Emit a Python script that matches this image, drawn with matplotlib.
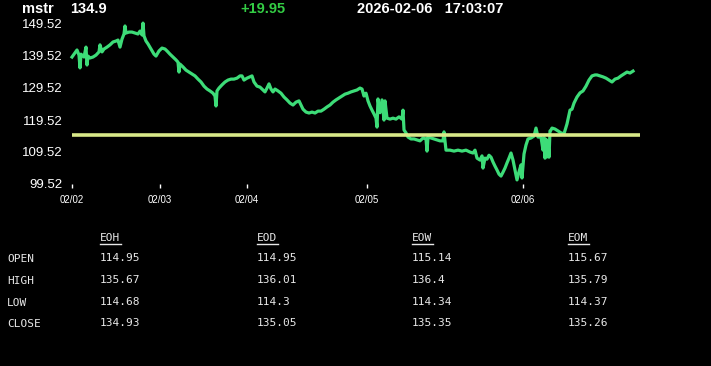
import matplotlib
matplotlib.use("Agg")
import matplotlib.pyplot as plt
from matplotlib.lines import Line2D

# quote header
symbol = "mstr"
last = "134.9"
change = "+19.95"
stamp = "2026-02-06   17:03:07"

# intraday series (bar index, price)
bars = [
    0, 2, 5, 7, 8, 9, 12, 14, 15, 16, 18, 21, 24, 27, 28, 30, 32, 35, 38, 41,
    44, 46, 48, 50, 52, 53, 54, 57, 60, 63, 66, 68, 70, 71, 72, 74, 76, 79, 82, 84,
    87, 90, 93, 95, 98, 101, 104, 106, 107, 108, 111, 114, 117, 120, 123, 126, 129, 132, 135, 138,
    141, 143, 144, 145, 147, 150, 153, 156, 159, 162, 165, 168, 170, 172, 175, 178, 180, 182, 185, 188,
    191, 193, 195, 197, 199, 201, 203, 206, 209, 212, 215, 218, 221, 224, 227, 229, 231, 234, 237, 240,
    243, 246, 249, 252, 255, 258, 261, 264, 267, 270, 273, 276, 279, 282, 285, 288, 290, 292, 294, 296,
    298, 300, 302, 304, 305, 306, 308, 310, 312, 313, 315, 318, 321, 324, 327, 330, 331, 332, 334, 336,
    339, 342, 345, 348, 351, 354, 355, 356, 359, 362, 365, 368, 371, 372, 374, 378, 382, 386, 390, 394,
    398, 401, 403, 405, 408, 410, 411, 413, 415, 417, 419, 421, 423, 425, 427, 429, 431, 433, 435, 437,
    439, 441, 443, 445, 447, 449, 450, 452, 454, 456, 459, 462, 464, 466, 469, 471, 472, 473, 474, 475,
    476, 477, 478, 479, 480, 483, 486, 489, 492, 495, 498, 500, 502, 505, 508, 511, 514, 517, 520, 523,
    525, 528, 531, 534, 537, 540, 543, 546, 549, 552, 555, 558, 561, 564, 567,
]
prices = [
    139.2, 140.1, 141.4, 139.8, 135.8, 140.1, 139.2, 142.3, 136.7, 139.5, 138.9, 139.2, 139.8, 140.8, 143.0, 140.8, 141.7, 142.3, 143.0, 143.9,
    144.2, 144.5, 142.3, 144.8, 146.4, 148.9, 146.7, 147.0, 147.0, 146.7, 146.4, 147.3, 146.1, 149.8, 145.8, 144.2, 143.3, 141.7, 140.1, 139.5,
    141.1, 142.0, 141.7, 141.1, 140.1, 139.2, 138.3, 137.6, 134.5, 137.0, 136.1, 135.1, 134.5, 133.9, 133.3, 132.3, 131.4, 130.1, 129.2, 128.6,
    127.9, 127.0, 123.9, 128.6, 129.5, 130.5, 131.4, 132.0, 132.3, 132.3, 132.6, 133.3, 133.3, 132.0, 132.6, 133.0, 133.3, 131.4, 130.1, 129.8,
    128.9, 128.3, 129.5, 130.8, 129.2, 128.3, 129.2, 128.6, 127.9, 126.7, 125.8, 124.8, 124.2, 125.1, 125.5, 124.2, 122.9, 122.0, 121.7, 122.0,
    121.7, 122.3, 122.3, 122.9, 123.6, 124.2, 125.1, 125.8, 126.4, 127.0, 127.6, 127.9, 128.3, 128.6, 128.9, 129.5, 129.2, 127.0, 127.9, 125.5,
    123.9, 122.6, 121.4, 120.1, 117.3, 126.1, 121.8, 125.8, 119.5, 125.5, 120.1, 119.8, 120.1, 119.8, 120.5, 119.8, 122.6, 116.4, 115.5, 114.2,
    113.6, 113.6, 113.3, 113.0, 113.9, 113.6, 109.8, 114.2, 113.9, 113.6, 113.3, 113.0, 113.0, 115.8, 110.1, 110.1, 109.8, 110.1, 109.8, 110.1,
    109.5, 109.2, 110.1, 107.6, 107.0, 108.3, 104.5, 107.6, 107.3, 108.5, 107.9, 106.4, 105.1, 103.9, 102.6, 102.0, 103.2, 104.5, 106.1, 107.6,
    109.2, 107.0, 103.9, 100.8, 103.3, 105.5, 101.4, 108.9, 111.7, 113.6, 113.9, 114.5, 117.0, 114.2, 114.2, 110.1, 114.0, 107.6, 113.5, 108.0,
    112.8, 107.9, 116.1, 116.4, 117.0, 116.7, 116.1, 115.5, 115.2, 118.3, 122.6, 122.9, 124.8, 126.7, 128.0, 128.6, 130.1, 132.0, 133.3, 133.6,
    133.6, 133.3, 133.0, 132.6, 132.0, 131.4, 132.3, 132.6, 133.3, 133.9, 134.5, 134.2, 134.8,
]
ref_level = 114.95

day_bars = [0, 88, 175, 295, 451]
day_labels = ["02/02", "02/03", "02/04", "02/05", "02/06"]
y_ticks = [99.52, 109.52, 119.52, 129.52, 139.52, 149.52]

# summary table
columns = ["EOH", "EOD", "EOW", "EOM"]
rows = ["OPEN", "HIGH", "LOW", "CLOSE"]
table = [
    ["114.95", "114.95", "115.14", "115.67"],
    ["135.67", "136.01", "136.4", "135.79"],
    ["114.68", "114.3", "114.34", "114.37"],
    ["134.93", "135.05", "135.35", "135.26"],
]

W, H = 711, 366
fig = plt.figure(figsize=(W / 100, H / 100), dpi=100, facecolor="black")
ax = fig.add_axes([72 / W, 1 - 184 / H, (640 - 72) / W, 160 / H], facecolor="black")

n = min(len(bars), len(prices))
ax.plot(bars[:n], prices[:n], color="#3ddc78", lw=2.3, solid_joinstyle="round", clip_on=False)
ax.hlines(ref_level, 0, 568, color="#d8e888", lw=2.6)

ax.set_xlim(0, 568)
ax.set_ylim(99.52, 149.52)
for s in ax.spines.values():
    s.set_visible(False)
ax.set_xticks(day_bars)
ax.set_xticklabels(day_labels)
ax.set_yticks(y_ticks)
ax.set_yticklabels(["%.2f" % v for v in y_ticks])
ax.tick_params(axis="x", colors="white", length=3, width=1, pad=5, labelsize=7)
ax.tick_params(axis="y", colors="white", length=0, pad=7, labelsize=9.5)
for lab in ax.get_xticklabels() + ax.get_yticklabels():
    lab.set_family("Liberation Sans")

# header line
hy = 1 - 9 / H
hdr = dict(family="Liberation Sans", weight="bold", fontsize=10.5, va="center")
fig.text(22 / W, hy, symbol, color="white", **hdr)
fig.text(70 / W, hy, last, color="white", **hdr)
fig.text(240 / W, hy, change, color="#33cc44", **hdr)
fig.text(357 / W, hy, stamp, color="white", **hdr)

# table below chart
mono = dict(family="DejaVu Sans Mono", fontsize=8, color="#e8e8e8", va="center")
col_x = [100, 257, 412, 568]
row_y = [259, 281, 303, 324]
for cx, name in zip(col_x, columns):
    fig.text(cx / W, 1 - 238 / H, name, **mono)
    fig.add_artist(Line2D([cx / W, (cx + 21) / W], [1 - 244 / H] * 2, color="#e8e8e8", lw=1))
for ry, name, vals in zip(row_y, rows, table):
    fig.text(7 / W, 1 - ry / H, name, **mono)
    for cx, v in zip(col_x, vals):
        fig.text(cx / W, 1 - (ry - 1) / H, v, **mono)

fig.savefig("out.png", dpi=100, facecolor="black")
